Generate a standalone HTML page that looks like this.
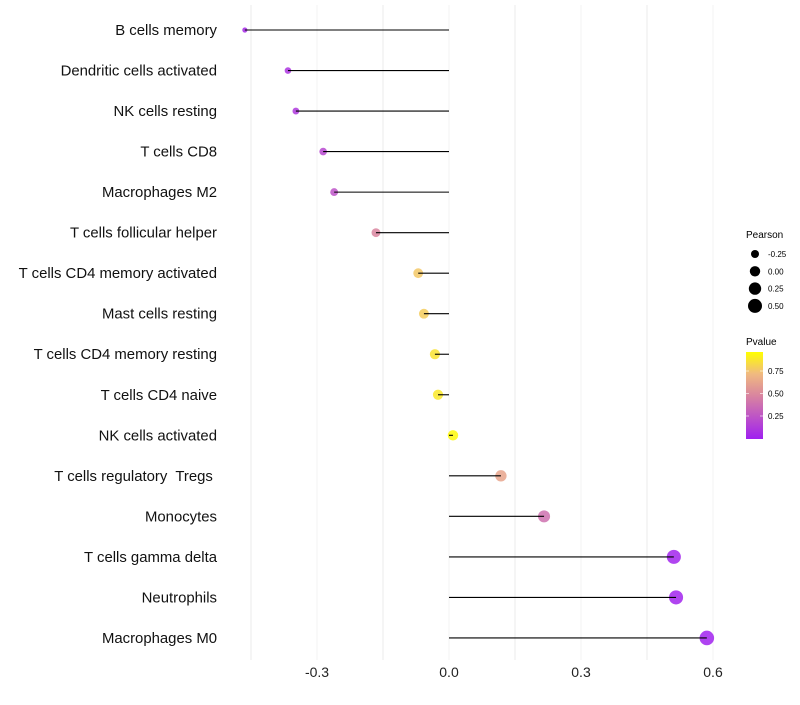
<!DOCTYPE html>
<html><head><meta charset="utf-8"><style>
body{margin:0;background:#fff;font-family:"Liberation Sans",sans-serif}
svg text{font-family:"Liberation Sans",sans-serif;white-space:pre}
</style></head><body>
<svg id="chart" width="800" height="700" xmlns="http://www.w3.org/2000/svg">
<defs><linearGradient id="pg" x1="0" y1="1" x2="0" y2="0">
<stop offset="0" stop-color="#a020f0"/><stop offset="0.5" stop-color="#d9859f"/><stop offset="0.75" stop-color="#f0ba80"/><stop offset="1" stop-color="#ffff00"/></linearGradient></defs>
<g id="grid"></g><g id="points"></g><g id="marks"></g><g id="labels"></g><g id="xaxis"></g>
<g>
<text x="746" y="238" font-size="10">Pearson</text>
<g id="sizeleg"></g>
<text x="746" y="345" font-size="10">Pvalue</text>
<rect x="746" y="352" width="17" height="87" fill="url(#pg)"/>
<g id="colleg"></g>
</g>
</svg>
<script>
const categories=["B cells memory","Dendritic cells activated","NK cells resting","T cells CD8","Macrophages M2","T cells follicular helper","T cells CD4 memory activated","Mast cells resting","T cells CD4 memory resting","T cells CD4 naive","NK cells activated","T cells regulatory  Tregs ","Monocytes","T cells gamma delta","Neutrophils","Macrophages M0"];
const pearson=[-0.464,-0.366,-0.348,-0.286,-0.261,-0.166,-0.070,-0.057,-0.032,-0.025,0.009,0.118,0.216,0.511,0.516,0.586];
const pvalue=[0.05,0.1,0.12,0.2,0.25,0.5,0.8,0.82,0.9,0.92,0.98,0.65,0.4,0.02,0.02,0.01];
const xTicks=[-0.3,0.0,0.3,0.6];
const xTickLabels=["-0.3","0.0","0.3","0.6"];
const sizeLegend=[-0.25,0,0.25,0.5];
const sizeLegendLabels=["-0.25","0.00","0.25","0.50"];
const colorLegend=[0.25,0.5,0.75];
const colorLegendLabels=["0.25","0.50","0.75"];
const NS="http://www.w3.org/2000/svg";
const xs=v=>449+v*440;
const ys=i=>30+i*40.53;
const rs=p=>Math.sqrt(Math.max(3,27+44*p));
function lerp(a,b,t){return a.map((v,i)=>Math.round(v+(b[i]-v)*t));}
const stops=[[0,[160,32,240]],[0.5,[217,133,159]],[0.75,[240,186,128]],[1,[255,255,0]]];
function col(p){for(let i=0;i<stops.length-1;i++){if(p<=stops[i+1][0]){const t=(p-stops[i][0])/(stops[i+1][0]-stops[i][0]);const c=lerp(stops[i][1],stops[i+1][1],t);return `rgb(${c})`;}}return "rgb(255,255,0)";}
function mk(tag,at,parent){const e=document.createElementNS(NS,tag);for(const k in at)e.setAttribute(k,at[k]);document.getElementById(parent).appendChild(e);return e;}
for(let v=-0.45;v<=0.61;v+=0.15){const g=mk("line",{x1:xs(v),x2:xs(v),y1:5,y2:660,stroke:"#ebebeb","stroke-width":Math.abs(Math.round(v/0.15))%2===0?0.6:1},"grid");

}
xTicks.forEach((v,i)=>{const t=mk("text",{x:xs(v),y:677,"font-size":14,"text-anchor":"middle",fill:"#222"},"xaxis");t.textContent=xTickLabels[i];

});
categories.forEach((c,i)=>{const y=ys(i);
const d=mk("circle",{cx:xs(pearson[i]),cy:y,r:rs(pearson[i]),fill:col(pvalue[i]),"fill-opacity":0.85},"points");


const l=mk("line",{x1:xs(0),x2:xs(pearson[i]),y1:y,y2:y,stroke:"#000","stroke-width":1.1},"marks");


const t=mk("text",{x:217,y:y+5,"font-size":14.9,"text-anchor":"end",fill:"#111"},"labels");t.textContent=c;

});
sizeLegend.forEach((p,i)=>{const y=254+i*17.3;
const d=mk("circle",{cx:755,cy:y,r:rs(p)},"sizeleg");


const t=mk("text",{x:768,y:y+3,"font-size":8},"sizeleg");t.textContent=sizeLegendLabels[i];

});
colorLegend.forEach((p,i)=>{const y=438.5-p*90;
const t=mk("text",{x:768,y:y+3,"font-size":8},"colleg");t.textContent=colorLegendLabels[i];


mk("line",{x1:746,x2:749,y1:y,y2:y,stroke:"#fff","stroke-opacity":0.6},"colleg");
mk("line",{x1:760,x2:763,y1:y,y2:y,stroke:"#fff","stroke-opacity":0.6},"colleg");});
</script>
</body></html>
